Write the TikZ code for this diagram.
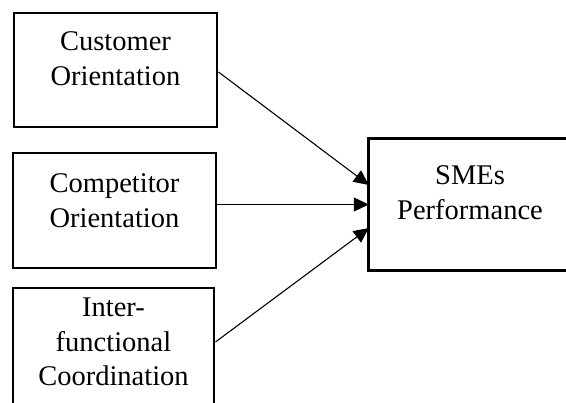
\documentclass[tikz,border=0pt]{standalone}
\usepackage{fontspec}
\setmainfont{Liberation Serif}
\usetikzlibrary{arrows.meta}
\begin{document}
\begin{tikzpicture}[x=1pt,y=-1pt,
  frame/.style={line width=2.9pt},
  box/.style={draw, frame, inner sep=0pt, rectangle},
  lbl/.style={inner sep=0pt, anchor=base, font=\fontsize{28.5}{34.5}\selectfont},
  conn/.style={line width=1.1pt, -{Triangle[length=15pt,width=14pt]}}]
\useasboundingbox (0,0) rectangle (566,403);
\clip (0,0) rectangle (566,403);

% factor boxes on the left
\node[box, minimum width=203pt, minimum height=114pt] (b1) at (115.5,70) {};
\node[box, minimum width=203pt, minimum height=115pt] (b2) at (114.5,210.5) {};
\node[box, minimum width=201pt, minimum height=132pt] (b3) at (113.5,354) {};

% outcome box on the right; its right side lies past the page edge
\node[inner sep=0pt, minimum width=221pt, minimum height=131pt] (sme) at (479.5,204.5) {};
\draw[frame] (sme.north east) -- (sme.north west) -- (sme.south west) -- (sme.south east);

% box texts
\node[lbl] (t1) at (115.5,51) {\begin{tabular}[t]{@{}c@{}}Customer\\Orientation\end{tabular}};
\node[lbl] (t2) at (114.5,193) {\begin{tabular}[t]{@{}c@{}}Competitor\\Orientation\end{tabular}};
\node[lbl] (t3) at (113.5,317) {\begin{tabular}[t]{@{}c@{}}Inter-\\functional\\Coordination\end{tabular}};
\node[lbl] (t4) at (470,185) {\begin{tabular}[t]{@{}c@{}}SMEs\\Performance\end{tabular}};

% influence arrows
\draw[conn] ([yshift=-2pt]b1.east) -- ([yshift=19.5pt]sme.west);
\draw[conn] (b2.east |- sme.west) -- (sme.west);
\draw[conn] ([yshift=12pt]b3.east) -- ([yshift=-23.5pt]sme.west);
\end{tikzpicture}
\end{document}
